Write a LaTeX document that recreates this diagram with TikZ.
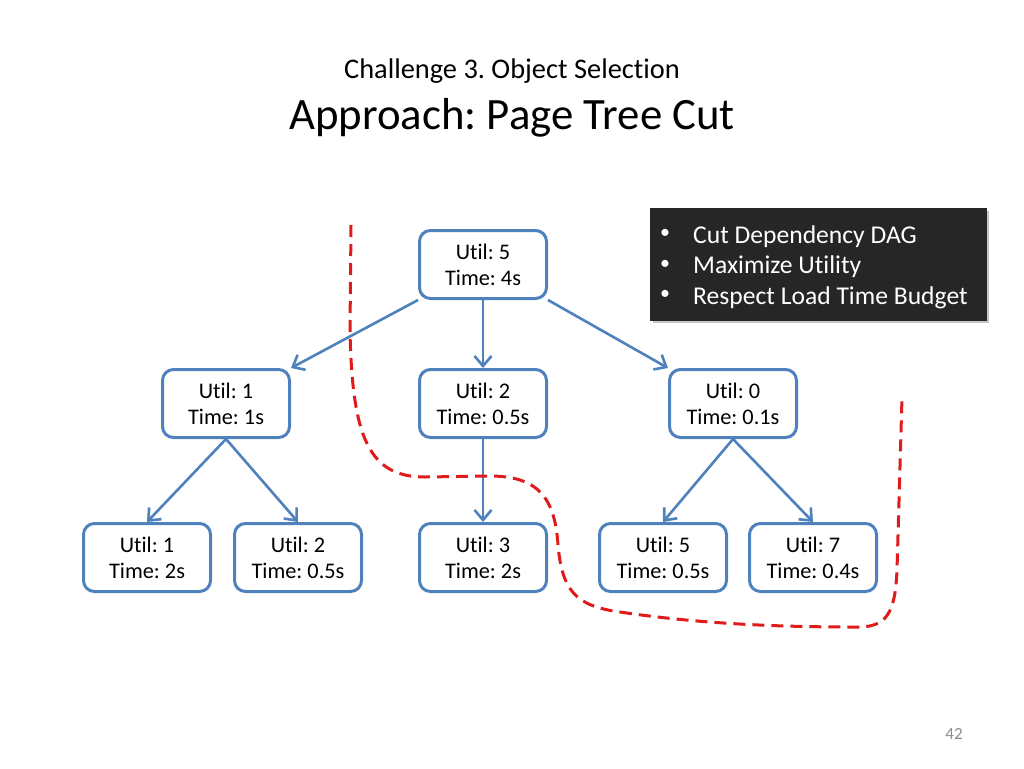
\documentclass[tikz,border=0pt]{standalone}
\usepackage{fontspec}
\setmainfont[Ligatures=NoCommon]{Carlito}
\frenchspacing
\usetikzlibrary{arrows.meta,shadows}
\definecolor{boxblue}{HTML}{4F81BD}
\definecolor{cutred}{HTML}{E01B1B}
\definecolor{darkbox}{HTML}{262626}
\definecolor{pagegray}{HTML}{8C8C8C}
\begin{document}
\begin{tikzpicture}[x=1pt,y=-1pt,
  treebox/.style={draw=boxblue, line width=3pt, fill=white, rounded corners=11pt,
    minimum width=127pt, minimum height=68pt, inner sep=0pt, align=center,
    font=\fontsize{22.3}{26}\selectfont\frenchspacing},
  edge/.style={draw=boxblue, line width=2.6pt, -{Straight Barb[length=10pt,width=17pt]}},
  cutline/.style={draw=cutred, line width=3pt, dash pattern=on 12pt off 7pt},
  notebox/.style={fill=darkbox, draw=darkbox, minimum width=336pt, minimum height=112pt,
    inner sep=0pt, drop shadow={shadow xshift=3pt, shadow yshift=-3pt, opacity=0.45}},
  notetext/.style={anchor=base west, text=white, inner sep=0pt, font=\fontsize{25.6}{30}\selectfont\frenchspacing},
  bullet/.style={text=white, inner sep=0pt, font=\fontsize{20}{24}\selectfont}
]
\useasboundingbox[fill=white] (0,0) rectangle (1024,768);

% titles
\node[anchor=base, font=\fontsize{28.4}{34}\selectfont\frenchspacing] (sub) at (512,78) {Challenge 3. Object Selection};
\node[anchor=base, font=\fontsize{44.8}{54}\selectfont\frenchspacing] (title) at (512,129) {Approach: Page Tree Cut};

% tree nodes
\node[treebox] (root) at (483,264.5) {Util: 5\\Time: 4s};
\node[treebox] (l) at (226,403.5) {Util: 1\\Time: 1s};
\node[treebox] (m) at (483,403.5) {Util: 2\\Time: 0.5s};
\node[treebox] (r) at (733,403.5) {Util: 0\\Time: 0.1s};
\node[treebox] (g1) at (147,557.5) {Util: 1\\Time: 2s};
\node[treebox] (g2) at (298,557.5) {Util: 2\\Time: 0.5s};
\node[treebox] (g3) at (483,557.5) {Util: 3\\Time: 2s};
\node[treebox] (g4) at (663,557.5) {Util: 5\\Time: 0.5s};
\node[treebox] (g5) at (813,557.5) {Util: 7\\Time: 0.4s};

% edges
\draw[edge] (root.south west) -- (l.north east);
\draw[edge] (root.south) -- (m.north);
\draw[edge] (root.south east) -- (r.north west);
\draw[edge] (l.south) -- (g1.north);
\draw[edge] (l.south) -- (g2.north);
\draw[edge] (m.south) -- (g3.north);
\draw[edge] (r.south) -- (g4.north);
\draw[edge] (r.south) -- (g5.north);

% cut lines
\coordinate (c1s) at (351,225);
\coordinate (c2s) at (620,612);
\draw[cutline] (c1s) -- (350,330) .. controls (352,440) and (370,477) .. (425,477)
  -- (490,476) .. controls (540,476) and (555,500) .. (558,545)
  .. controls (562,590) and (575,606) .. (c2s);
\draw[cutline] (c2s) .. controls (700,624) and (780,627) .. (855,627)
  .. controls (888,628) and (895,612) .. (897,570) -- (902,397);

% notes box
\node[notebox] (notes) at (818,264) {};
\node[bullet] (n1b) at (665,234) {•};
\node[bullet] (n2b) at (665,264.5) {•};
\node[bullet] (n3b) at (665,295) {•};
\node[notetext] (n1) at (693,243) {Cut Dependency DAG};
\node[notetext] (n2) at (693,273.5) {Maximize Utility};
\node[notetext] (n3) at (693,304) {Respect Load Time Budget};

% page number
\node[anchor=base, text=pagegray, inner sep=0pt, font=\fontsize{17}{20}\selectfont] (pg) at (954,739) {42};
\end{tikzpicture}
\end{document}
